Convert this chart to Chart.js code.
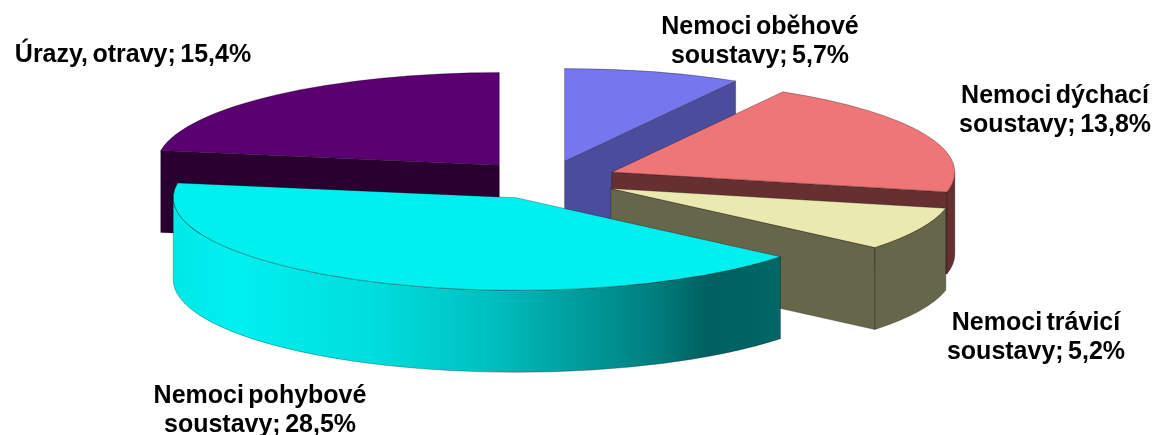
<!DOCTYPE html>
<html lang="cs">
<head>
<meta charset="utf-8">
<title>Nemoci</title>
<script src="https://cdn.jsdelivr.net/npm/chart.js@4"></script>
<style>
    html, body { margin: 0; padding: 0; background: #fff; }
    canvas { display: block; }
</style>
</head>
<body>
<canvas id="pieChart" width="1156" height="435"></canvas>
<script>
const categories = ['Nemoci oběhové soustavy', 'Nemoci dýchací soustavy', 'Nemoci trávicí soustavy', 'Nemoci pohybové soustavy', 'Úrazy, otravy'];
const shares = [5.7, 13.8, 5.2, 28.5, 15.4];
const topColors = ['#7676ee', '#ee7676', '#eaeab0', '#00f0f0', '#5a0070'];
const wallColors = ['#4c4c9c', '#663030', '#66664a', '#008080', '#2a0030'];

// look of the fake 3D pie
const squash = 0.27;
const explode = 72;
const depth = 82;
const drawOrder = [4, 0, 1, 2, 3]; // back to front
const edgeColor = 'rgba(0,0,0,0.35)';
const labelSpots = [[760, 27], [1055, 96], [1036, 323], [260, 396], [133, 55]];

function labelLines(i) {
    const value = String(shares[i]).replace('.', ',') + '%';
    const words = categories[i].split(' ');
    if (words.length < 3) return [categories[i] + '; ' + value];
    return [words.slice(0, 2).join(' '), words[2] + '; ' + value];
}

function paint(ctx, fill) {
    ctx.fillStyle = fill;
    ctx.fill();
    ctx.strokeStyle = edgeColor;
    ctx.lineWidth = 0.8;
    ctx.stroke();
}

function cylinderGradient(ctx) {
    // only the big front slice has the shaded rim
    const g = ctx.createLinearGradient(175, 0, 780, 0);
    g.addColorStop(0, '#00e8e8');
    g.addColorStop(0.1, '#00f0f0');
    g.addColorStop(0.32, '#00dede');
    g.addColorStop(0.52, '#00c0c0');
    g.addColorStop(0.65, '#00a0a0');
    g.addColorStop(0.8, '#007c7c');
    g.addColorStop(0.88, '#006060');
    g.addColorStop(1, '#006666');
    return g;
}

function drawSlice(ctx, arc, i) {
    const r = arc.outerRadius;
    const ry = r * squash;
    const mid = (arc.startAngle + arc.endAngle) / 2;
    const ax = arc.x + Math.cos(mid) * explode;
    const ay = arc.y + Math.sin(mid) * explode * squash;
    const rimX = a => ax + Math.cos(a) * r;
    const rimY = a => ay + Math.sin(a) * ry;

    // cut faces, only those turned to the viewer
    [arc.startAngle, arc.endAngle].forEach((a, side) => {
        const facing = side === 0 ? Math.cos(a) < 0 : Math.cos(a) > 0;
        if (!facing) return;
        ctx.beginPath();
        ctx.moveTo(ax, ay);
        ctx.lineTo(rimX(a), rimY(a));
        ctx.lineTo(rimX(a), rimY(a) + depth);
        ctx.lineTo(ax, ay + depth);
        ctx.closePath();
        paint(ctx, wallColors[i]);
    });

    // outer rim, front half of the ellipse
    const from = Math.max(arc.startAngle, 0);
    const to = Math.min(arc.endAngle, Math.PI);
    if (to > from) {
        ctx.beginPath();
        ctx.ellipse(ax, ay, r, ry, 0, from, to);
        ctx.ellipse(ax, ay + depth, r, ry, 0, to, from, true);
        ctx.closePath();
        paint(ctx, i === 3 ? cylinderGradient(ctx) : wallColors[i]);
    }

    // top face
    ctx.beginPath();
    ctx.moveTo(ax, ay);
    ctx.ellipse(ax, ay, r, ry, 0, arc.startAngle, arc.endAngle);
    ctx.closePath();
    paint(ctx, topColors[i]);
}

const pie3d = {
    id: 'pie3d',
    beforeDatasetsDraw(chart) {
        const ctx = chart.ctx;
        const arcs = chart.getDatasetMeta(0).data;
        ctx.save();
        drawOrder.forEach(i => drawSlice(ctx, arcs[i], i));
        ctx.restore();
        return false;
    },
    afterDraw(chart) {
        const ctx = chart.ctx;
        ctx.save();
        ctx.fillStyle = '#000';
        ctx.font = 'bold 25px "Liberation Sans", Arial, sans-serif';
        ctx.wordSpacing = '-2.5px';
        ctx.textAlign = 'center';
        ctx.textBaseline = 'middle';
        labelSpots.forEach((spot, i) => {
            labelLines(i).forEach((line, n) => {
                ctx.fillText(line, spot[0], spot[1] + n * 29.5);
            });
        });
        ctx.restore();
    }
};

new Chart(document.getElementById('pieChart'), {
    type: 'pie',
    data: {
        labels: categories,
        datasets: [{ data: shares, backgroundColor: topColors, borderWidth: 0 }]
    },
    options: {
        responsive: false,
        animation: false,
        events: [],
        radius: 343,
        layout: { padding: { right: 64, bottom: 75 } },
        plugins: { legend: { display: false }, tooltip: { enabled: false } }
    },
    plugins: [pie3d]
});
</script>
</body>
</html>
